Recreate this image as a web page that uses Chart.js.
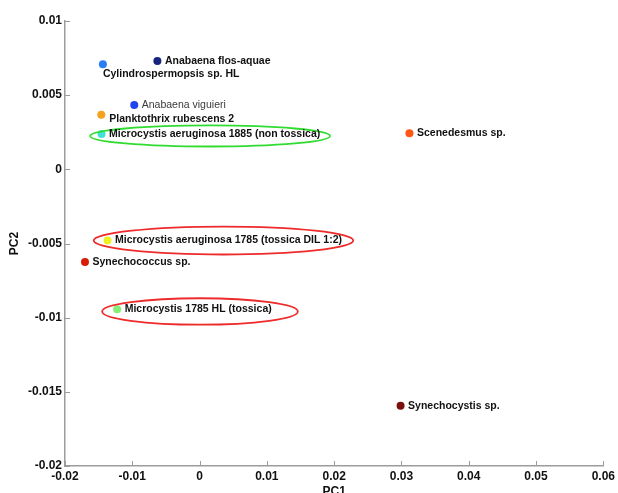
<!DOCTYPE html>
<html>
<head>
<meta charset="utf-8">
<script src="https://cdn.jsdelivr.net/npm/chart.js@4.4.1/dist/chart.umd.min.js"></script>
<style>
  html, body { margin: 0; padding: 0; background: #fff; overflow: hidden; }
  #wrap { width: 618px; height: 502px; }
</style>
</head>
<body>
<div id="wrap"><canvas id="pca" width="618" height="502"></canvas></div>
<script>
// Strains and their scores on the first two principal components
const strains = [
  'Anabaena flos-aquae',
  'Cylindrospermopsis sp. HL',
  'Anabaena viguieri',
  'Planktothrix rubescens 2',
  'Microcystis aeruginosa 1885 (non tossica)',
  'Scenedesmus sp.',
  'Microcystis aeruginosa 1785 (tossica DIL 1:2)',
  'Synechococcus sp.',
  'Microcystis 1785 HL (tossica)',
  'Synechocystis sp.'
];
const pc1 = [-0.00627, -0.01437, -0.00971, -0.01461, -0.01457, 0.03119, -0.01368, -0.01703, -0.01225, 0.02987];
const pc2 = [0.00731, 0.00709, 0.00433, 0.00368, 0.00239, 0.00243, -0.00480, -0.00624, -0.00944, -0.01594];

// Axis ticks
const pc1Ticks = [-0.02, -0.01, 0, 0.01, 0.02, 0.03, 0.04, 0.05, 0.06];
const pc1TickLabels = ['-0.02', '-0.01', '0', '0.01', '0.02', '0.03', '0.04', '0.05', '0.06'];
const pc2Ticks = [-0.02, -0.015, -0.01, -0.005, 0, 0.005, 0.01];
const pc2TickLabels = ['-0.02', '-0.015', '-0.01', '-0.005', '0', '0.005', '0.01'];

// Marker colours, one per strain
const markerColors = ['#16237f', '#2b7cf6', '#1f45ee', '#f4a21e', '#3fe2d6', '#ff5515', '#eef020', '#d81c05', '#84ee78', '#7a0f0f'];

// Label placement relative to each marker (pixels)
const labelOffsets = {
  'Cylindrospermopsis sp. HL': [0, 9.5],
  'Planktothrix rubescens 2': [8, 4.5]
};
const lightLabels = ['Anabaena viguieri'];

// Highlight ellipses around the Microcystis groups: centre and radii in PC units
const highlights = [
  { cx: 0.00156, cy: 0.00225, rx: 0.01782, ry: 0.00071, color: '#2fdc2f' },
  { cx: 0.00355, cy: -0.00480, rx: 0.01929, ry: 0.00094, color: '#ee2b2b' },
  { cx: 0.00006, cy: -0.00958, rx: 0.01454, ry: 0.00089, color: '#ee2b2b' }
];

const FONT = '"Liberation Sans", Arial, sans-serif';
const AXIS_COLOR = '#9c9c9c';

const annotatePlugin = {
  id: 'annotate',
  afterDatasetsDraw(chart) {
    const ctx = chart.ctx;
    const xs = chart.scales.x, ys = chart.scales.y;
    ctx.save();

    // inward tick marks
    ctx.strokeStyle = AXIS_COLOR;
    ctx.lineWidth = 1;
    const area = chart.chartArea;
    pc1Ticks.forEach(v => {
      const px = Math.round(xs.getPixelForValue(v)) + 0.5;
      ctx.beginPath();
      ctx.moveTo(px, area.bottom);
      ctx.lineTo(px, area.bottom - 5);
      ctx.stroke();
    });
    pc2Ticks.forEach(v => {
      const py = Math.round(ys.getPixelForValue(v)) + 0.5;
      ctx.beginPath();
      ctx.moveTo(area.left, py);
      ctx.lineTo(area.left + 5, py);
      ctx.stroke();
    });

    // highlight ellipses
    highlights.forEach(h => {
      const cx = xs.getPixelForValue(h.cx);
      const cy = ys.getPixelForValue(h.cy);
      const rx = Math.abs(xs.getPixelForValue(h.cx + h.rx) - cx);
      const ry = Math.abs(ys.getPixelForValue(h.cy + h.ry) - cy);
      ctx.beginPath();
      ctx.ellipse(cx, cy, rx, ry, 0, 0, Math.PI * 2);
      ctx.strokeStyle = h.color;
      ctx.lineWidth = 1.8;
      ctx.stroke();
    });

    // strain labels
    const meta = chart.getDatasetMeta(0);
    ctx.textBaseline = 'middle';
    ctx.textAlign = 'left';
    meta.data.forEach((pt, i) => {
      const name = strains[i];
      const off = labelOffsets[name] || [7.5, 0];
      const light = lightLabels.includes(name);
      ctx.font = (light ? '' : 'bold ') + '10.5px ' + FONT;
      ctx.fillStyle = light ? '#3a3a3a' : '#111';
      ctx.fillText(name, pt.x + off[0], pt.y + off[1]);
    });
    ctx.restore();
  }
};

new Chart(document.getElementById('pca'), {
  type: 'scatter',
  data: {
    datasets: [{
      data: pc1.map((v, i) => ({ x: v, y: pc2[i] })),
      backgroundColor: markerColors,
      borderColor: markerColors,
      borderWidth: 0,
      pointRadius: 4,
      pointHoverRadius: 4
    }]
  },
  options: {
    responsive: false,
    animation: false,
    devicePixelRatio: 1,
    layout: { padding: { top: 21, right: 11, left: 0, bottom: 0 } },
    plugins: { legend: { display: false }, tooltip: { enabled: false } },
    scales: {
      x: {
        type: 'linear',
        min: -0.02,
        max: 0.06,
        afterBuildTicks: s => { s.ticks = pc1Ticks.map(v => ({ value: v })); },
        afterFit: s => { s.height = 36; },
        grid: { display: false, drawTicks: false },
        border: { display: true, color: AXIS_COLOR, width: 1.5 },
        ticks: {
          padding: 3,
          maxRotation: 0,
          autoSkip: false,
          color: '#111',
          font: { family: FONT, size: 12, weight: 'bold' },
          callback: (v) => pc1TickLabels[pc1Ticks.findIndex(t => Math.abs(t - v) < 1e-9)]
        },
        title: {
          display: true,
          text: 'PC1',
          color: '#111',
          padding: { top: 0, bottom: 2.8 },
          font: { family: FONT, size: 12, weight: 'bold' }
        }
      },
      y: {
        type: 'linear',
        min: -0.02,
        max: 0.01,
        afterBuildTicks: s => { s.ticks = pc2Ticks.map(v => ({ value: v })); },
        afterFit: s => { s.width = 65; },
        grid: { display: false, drawTicks: false },
        border: { display: true, color: AXIS_COLOR, width: 1.5 },
        ticks: {
          padding: 3,
          autoSkip: false,
          color: '#111',
          font: { family: FONT, size: 12, weight: 'bold' },
          callback: (v) => pc2TickLabels[pc2Ticks.findIndex(t => Math.abs(t - v) < 1e-9)]
        },
        title: {
          display: true,
          text: 'PC2',
          color: '#111',
          padding: { top: 7, bottom: 0 },
          font: { family: FONT, size: 12, weight: 'bold' }
        }
      }
    }
  },
  plugins: [annotatePlugin]
});
</script>
</body>
</html>
